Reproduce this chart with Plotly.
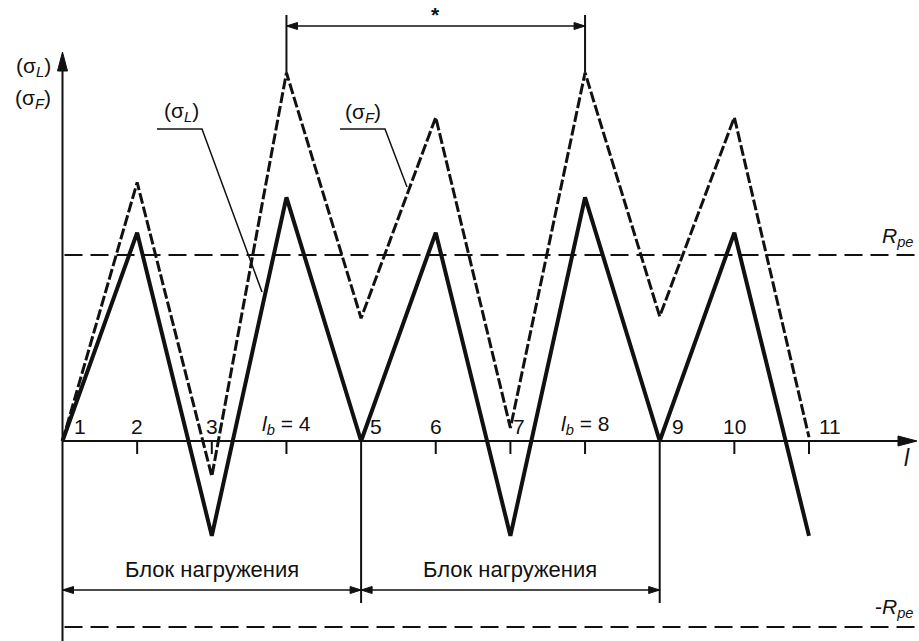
import plotly.graph_objects as go

# точки нагружения и напряжения (в долях R_pe)
l_points = [1, 2, 3, 4, 5, 6, 7, 8, 9, 10, 11]
sigma_L = [0, 1.12, -0.51, 1.31, 0, 1.12, -0.51, 1.31, 0, 1.12, -0.51]
sigma_F = [0, 1.39, -0.19, 1.98, 0.66, 1.74, 0.07, 1.98, 0.67, 1.74, 0.02]
R_pe = 1.0
tick_labels = ["1", "2", "3", "<i>l</i><sub><i>b</i></sub> = 4", "5", "6", "7",
               "<i>l</i><sub><i>b</i></sub> = 8", "9", "10", "11"]
block_edges = [1, 5, 9]
block_text = "Блок нагружения"

# масштаб: пикселей на единицу
PX_X = 74.65
PX_Y = 186.0
W, H = 919, 641
x0 = 1 - 62.5 / PX_X
y0 = -(H - 441) / PX_Y
x_max = x0 + W / PX_X
y_max = y0 + H / PX_Y

def dx(px):
    return px / PX_X

def dy(px):
    return px / PX_Y

FONT = "Liberation Sans, Arial, sans-serif"
INK = "#111111"

fig = go.Figure()

# R_pe и -R_pe
for lvl in (R_pe, -R_pe):
    fig.add_trace(go.Scatter(x=[1 + dx(2), x_max - dx(1)], y=[lvl, lvl], mode="lines",
                             line=dict(color=INK, width=2, dash="18px,8px"),
                             hoverinfo="skip"))

fig.add_trace(go.Scatter(x=l_points, y=sigma_F, mode="lines",
                         line=dict(color=INK, width=3, dash="11px,3px"), name="σF"))
fig.add_trace(go.Scatter(x=l_points, y=sigma_L, mode="lines",
                         line=dict(color=INK, width=4), name="σL"))

shapes = []
line_thin = dict(color=INK, width=2)

# оси
shapes.append(dict(type="line", x0=1, x1=x_max - dx(4), y0=0, y1=0, line=line_thin))
shapes.append(dict(type="line", x0=1, x1=1, y0=y0, y1=(441 - 60) / PX_Y, line=line_thin))

def head(xt, yt, direction, length, half):
    # треугольная стрелка, размеры в пикселях
    if direction == "right":
        p = [(xt, yt), (xt - dx(length), yt + dy(half)), (xt - dx(length), yt - dy(half))]
    elif direction == "left":
        p = [(xt, yt), (xt + dx(length), yt + dy(half)), (xt + dx(length), yt - dy(half))]
    else:  # up
        p = [(xt, yt), (xt - dx(half), yt - dy(length)), (xt + dx(half), yt - dy(length))]
    path = "M " + " L ".join(f"{a},{b}" for a, b in p) + " Z"
    return dict(type="path", path=path, fillcolor=INK, line=dict(color=INK, width=1))

shapes.append(head(x_max - dx(2), 0, "right", 19, 5))
shapes.append(head(1, (441 - 52) / PX_Y, "up", 19, 5))

# засечки
for xi in l_points:
    if xi not in block_edges:
        shapes.append(dict(type="line", x0=xi, x1=xi, y0=0, y1=-dy(13), line=line_thin))

# границы блоков
y_block = -dy(149)
for xe in block_edges[1:]:
    shapes.append(dict(type="line", x0=xe, x1=xe, y0=0, y1=-dy(162), line=line_thin))
for a, b in zip(block_edges[:-1], block_edges[1:]):
    shapes.append(dict(type="line", x0=a, x1=b, y0=y_block, y1=y_block, line=dict(color=INK, width=1.5)))
    shapes.append(head(a, y_block, "left", 11, 3.5))
    shapes.append(head(b, y_block, "right", 11, 3.5))

# размер * между пиками 4 и 8
y_dim = dy(441 - 26)
for xp in (4, 8):
    shapes.append(dict(type="line", x0=xp, x1=xp, y0=sigma_F[xp - 1], y1=dy(441 - 15), line=line_thin))
shapes.append(dict(type="line", x0=4, x1=8, y0=y_dim, y1=y_dim, line=dict(color=INK, width=1.5)))
shapes.append(head(4, y_dim, "left", 11, 3.5))
shapes.append(head(8, y_dim, "right", 11, 3.5))

# выноски
def leader(pts):
    path = "M " + " L ".join(f"{1 + dx(a - 62.5)},{dy(441 - b)}" for a, b in pts)
    return dict(type="path", path=path, line=dict(color=INK, width=1.5))

shapes.append(leader([(157, 129), (202, 129), (262, 292)]))
shapes.append(leader([(340, 129), (385, 129), (407, 187)]))

ann = []
def txt(x, y, text, xshift=0, yshift=0, xanchor="center", yanchor="middle", size=21):
    ann.append(dict(x=x, y=y, text=text, showarrow=False, xanchor=xanchor, yanchor=yanchor,
                    xshift=xshift, yshift=yshift, font=dict(family=FONT, size=size, color=INK)))

shifts = {1: 17, 5: 15, 7: 9, 9: 18, 11: 21}
for xi, lab in zip(l_points, tick_labels):
    txt(xi, 0, lab, xshift=shifts.get(xi, 0), yshift=1, yanchor="bottom")

for a, b in zip(block_edges[:-1], block_edges[1:]):
    txt((a + b) / 2, dy(441 - 569), block_text, size=22)

txt(x_max - dx(12), 0, "<i>l</i>", yshift=-17, size=23)
txt(x_max - dx(3), R_pe, "<i>R</i><sub><i>pe</i></sub>", xanchor="right", yshift=18)
txt(x_max - dx(3), -R_pe, "-<i>R</i><sub><i>pe</i></sub>", xanchor="right", yshift=19)
txt(6, dy(441 - 14), "<b>*</b>", size=21)
txt(1 + dx(33 - 62.5), dy(441 - 67), "(σ<sub><i>L</i></sub>)")
txt(1 + dx(33 - 62.5), dy(441 - 99), "(σ<sub><i>F</i></sub>)")
txt(1 + dx(181 - 62.5), dy(441 - 112), "(σ<sub><i>L</i></sub>)")
txt(1 + dx(363 - 62.5), dy(441 - 113), "(σ<sub><i>F</i></sub>)")

fig.update_layout(
    width=W, height=H, autosize=False,
    margin=dict(l=0, r=0, t=0, b=0),
    paper_bgcolor="white", plot_bgcolor="white",
    showlegend=False,
    xaxis=dict(range=[x0, x_max], visible=False, fixedrange=True),
    yaxis=dict(range=[y0, y_max], visible=False, fixedrange=True),
    shapes=shapes, annotations=ann,
)

fig.write_html("out.html", config={"displayModeBar": False},
               post_script="document.body.style.margin='0px';document.body.style.overflow='hidden';")
